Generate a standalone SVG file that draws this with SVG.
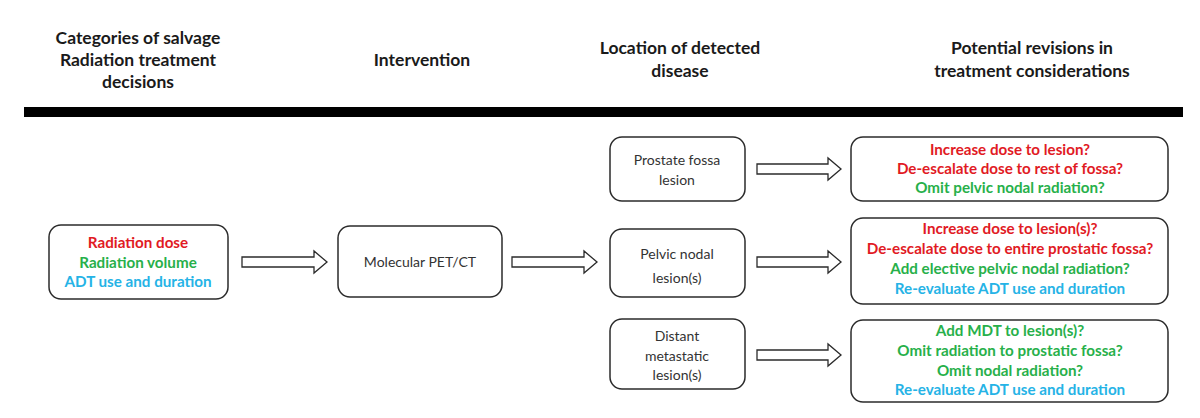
<svg xmlns="http://www.w3.org/2000/svg" width="1200" height="418" viewBox="0 0 1200 418">
<style>
.hdr{font-family:Lato,"Liberation Sans",sans-serif;font-weight:bold;font-size:17.5px;fill:#1a1a1a;text-anchor:middle}
.box{fill:#fff;stroke:#2b2b2b;stroke-width:1.5}
.lbl{font-family:Lato,"Liberation Sans",sans-serif;font-size:14px;fill:#333;text-anchor:middle}
.b{font-family:Lato,"Liberation Sans",sans-serif;font-weight:bold;font-size:15.2px;text-anchor:middle}
.r{fill:#e11a24}.g{fill:#27b04a}.c{fill:#25b3e6}
.arr{fill:#fff;stroke:#2b2b2b;stroke-width:1.3}
</style>
<rect width="1200" height="418" fill="#fff"/>
<g id="headers">
<text class="hdr" x="138" y="44">Categories of salvage</text>
<text class="hdr" x="138" y="66">Radiation treatment</text>
<text class="hdr" x="138" y="88">decisions</text>
<text class="hdr" x="422" y="66">Intervention</text>
<text class="hdr" x="680" y="54">Location of detected</text>
<text class="hdr" x="680" y="77">disease</text>
<text class="hdr" x="1032" y="54">Potential revisions in</text>
<text class="hdr" x="1032" y="77">treatment considerations</text>
<rect x="24" y="107" width="1159" height="10" fill="#000"/>
</g>
<g id="categories">
<rect class="box" x="49" y="225" width="179" height="74" rx="12"/>
<text class="b r" x="138" y="248">Radiation dose</text>
<text class="b g" x="138" y="268">Radiation volume</text>
<text class="b c" x="138" y="287">ADT use and duration</text>
</g>
<g id="intervention">
<rect class="box" x="338" y="226" width="164" height="71" rx="12"/>
<text class="lbl" x="420" y="267">Molecular PET/CT</text>
</g>
<g id="fossa">
<rect class="box" x="610" y="137" width="135" height="64" rx="12"/>
<text class="lbl" x="677" y="165">Prostate fossa</text>
<text class="lbl" x="677" y="185">lesion</text>
</g>
<g id="pelvic">
<rect class="box" x="610" y="229" width="135" height="68" rx="12"/>
<text class="lbl" x="677" y="259">Pelvic nodal</text>
<text class="lbl" x="677" y="283">lesion(s)</text>
</g>
<g id="distant">
<rect class="box" x="610" y="319" width="135" height="70" rx="12"/>
<text class="lbl" x="677" y="341">Distant</text>
<text class="lbl" x="677" y="361">metastatic</text>
<text class="lbl" x="677" y="380">lesion(s)</text>
</g>
<g id="rev-fossa">
<rect class="box" x="851" y="137" width="317" height="64" rx="12"/>
<text class="b r" x="1010" y="155">Increase dose to lesion?</text>
<text class="b r" x="1010" y="174">De-escalate dose to rest of fossa?</text>
<text class="b g" x="1010" y="193">Omit pelvic nodal radiation?</text>
</g>
<g id="rev-pelvic">
<rect class="box" x="851" y="218" width="317" height="86" rx="12"/>
<text class="b r" x="1010" y="234">Increase dose to lesion(s)?</text>
<text class="b r" x="1010" y="254">De-escalate dose to entire prostatic fossa?</text>
<text class="b g" x="1010" y="274">Add elective pelvic nodal radiation?</text>
<text class="b c" x="1010" y="294">Re-evaluate ADT use and duration</text>
</g>
<g id="rev-distant">
<rect class="box" x="851" y="320" width="317" height="82" rx="12"/>
<text class="b g" x="1010" y="336">Add MDT to lesion(s)?</text>
<text class="b g" x="1010" y="356">Omit radiation to prostatic fossa?</text>
<text class="b g" x="1010" y="376">Omit nodal radiation?</text>
<text class="b c" x="1010" y="395">Re-evaluate ADT use and duration</text>
</g>
<g id="connectors">
<path class="arr" d="M242,257 H314 V251 L327,262 L314,273 V267 H242 Z"/>
<path class="arr" d="M512,257 H584 V251 L597,262 L584,273 V267 H512 Z"/>
<path class="arr" d="M757,164 H828 V158 L841,169 L828,180 V174 H757 Z"/>
<path class="arr" d="M757,257 H828 V251 L841,262 L828,273 V267 H757 Z"/>
<path class="arr" d="M757,350 H828 V344 L841,355 L828,366 V360 H757 Z"/>
</g>
</svg>
